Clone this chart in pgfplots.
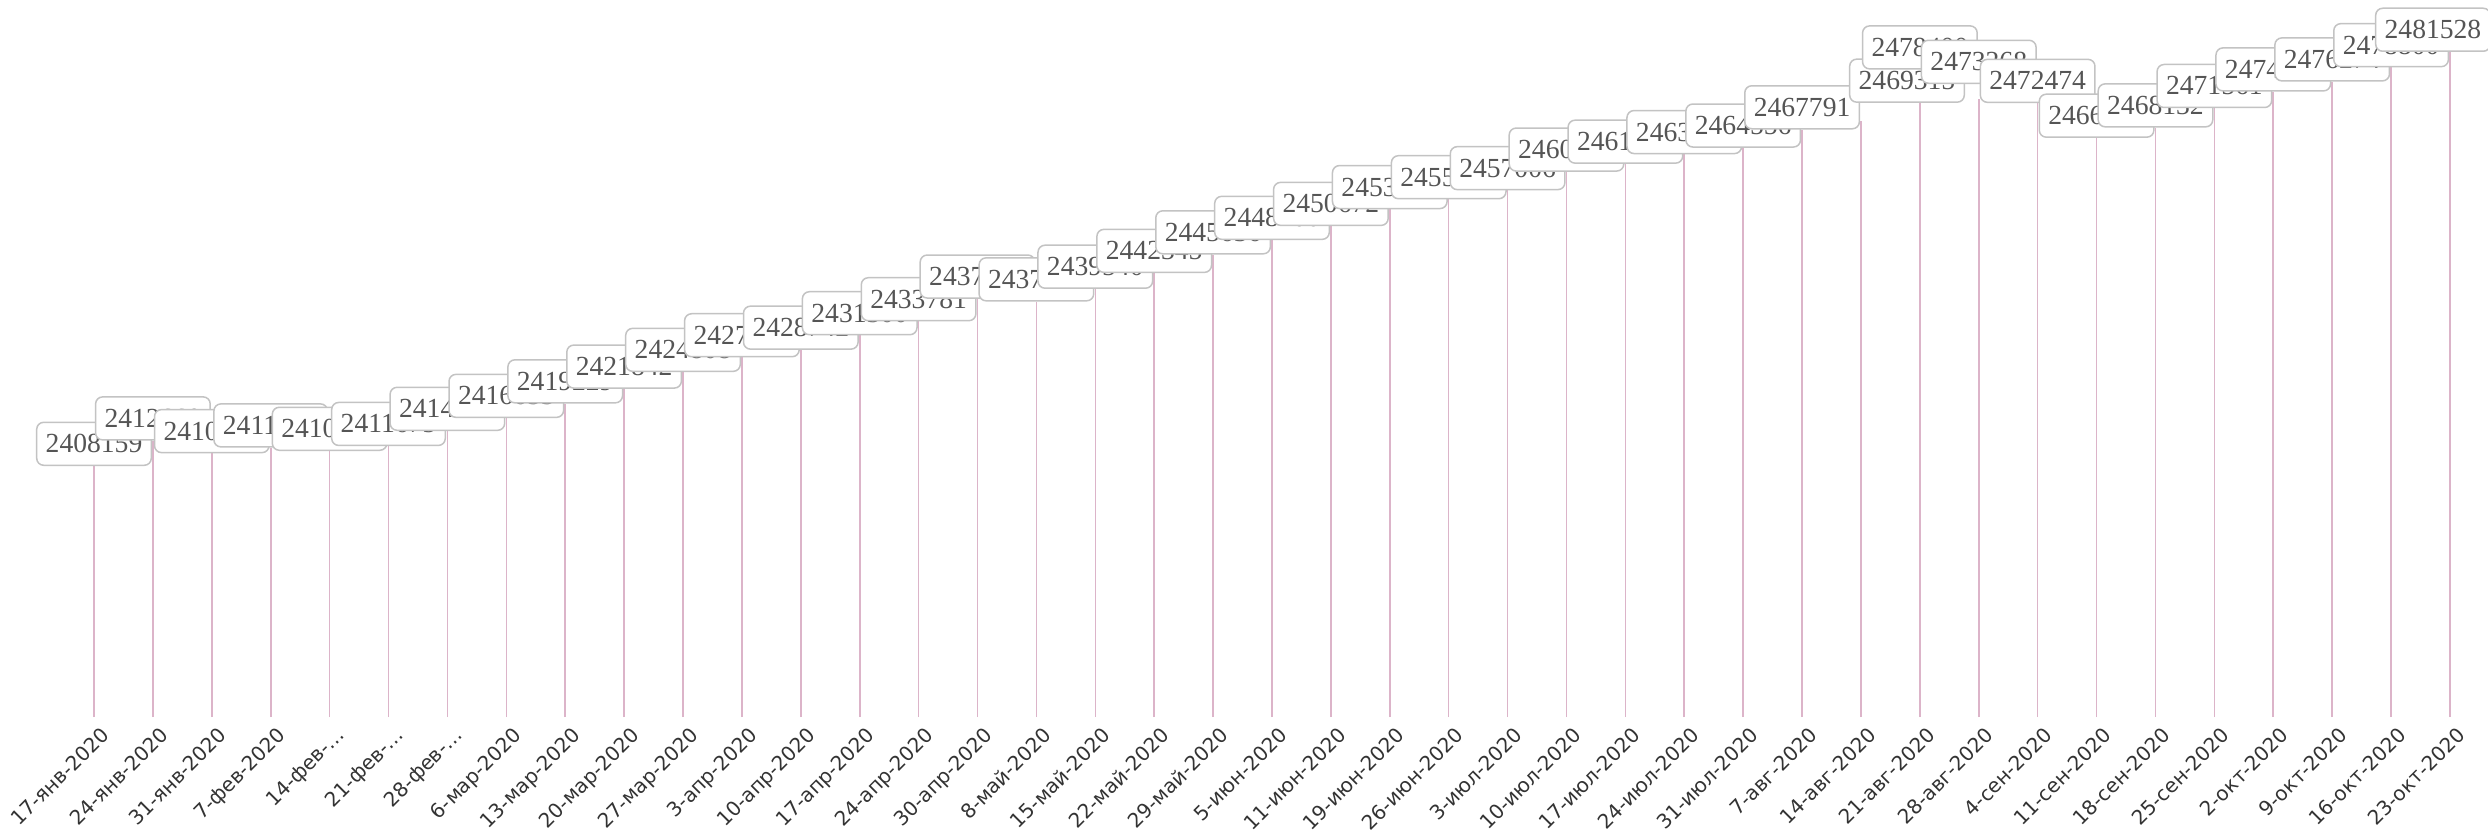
\documentclass[border=0pt]{standalone}
\usepackage{pgfplots}
\pgfplotsset{compat=1.18}
\usepackage{pgfplotstable}
\usepackage{fontspec}
\newfontfamily\labelfont{Liberation Serif}
\newfontfamily\tickfont{DejaVu Sans}
\definecolor{pinkline}{RGB}{220,180,201}
\definecolor{boxgray}{RGB}{195,195,195}
\definecolor{labeltext}{RGB}{85,85,85}
\definecolor{ticktext}{RGB}{51,51,51}

\pgfplotstableread{
x y l
0 2408159 2408159
1 2412660 2412660
2 2410410 2410410
3 2411420 2411420
4 2410820 2410820
5 2411675 2411675
6 2414360 2414360
7 2416653 2416653
8 2419229 2419229
9 2421842 2421842
10 2424808 2424808
11 2427400 2427400
12 2428742 2428742
13 2431300 2431300
14 2433781 2433781
15 2437800 2437800
16 2437300 2437300
17 2439540 2439540
18 2442345 2442345
19 2445636 2445636
20 2448200 2448200
21 2450672 2450672
22 2453654 2453654
23 2455400 2455400
24 2457006 2457006
25 2460300 2460300
26 2461700 2461700
27 2463400 2463400
28 2464556 2464556
29 2467791 2467791
30 2469315 2469315
31 2478400 2478400
32 2473268 2473268
33 2472474 2472474
34 2466300 2466300
35 2468132 2468132
36 2471561 2471561
37 2474500 2474500
38 2476274 2476274
39 2478800 2478800
40 2481528 2481528
}\labdata

\begin{document}
\begin{tikzpicture}
\useasboundingbox (0pt,-57.5pt) rectangle (1244pt,358.5pt);
\begin{axis}[
  at={(0pt,0pt)}, anchor=south west,
  scale only axis, width=1244pt, height=358.5pt,
  xmin=-1.596, xmax=40.645,
  ymin=2363690, ymax=2490742,
  axis line style={draw=none},
  tick style={draw=none},
  major tick length=0pt,
  ytick=\empty,
  xtick={0,...,40},
  xticklabels={17-янв-2020,24-янв-2020,31-янв-2020,7-фев-2020,14-фев-…,21-фев-…,28-фев-…,6-мар-2020,13-мар-2020,20-мар-2020,27-мар-2020,3-апр-2020,10-апр-2020,17-апр-2020,24-апр-2020,30-апр-2020,8-май-2020,15-май-2020,22-май-2020,29-май-2020,5-июн-2020,11-июн-2020,19-июн-2020,26-июн-2020,3-июл-2020,10-июл-2020,17-июл-2020,24-июл-2020,31-июл-2020,7-авг-2020,14-авг-2020,21-авг-2020,28-авг-2020,4-сен-2020,11-сен-2020,18-сен-2020,25-сен-2020,2-окт-2020,9-окт-2020,16-окт-2020,23-окт-2020},
  xticklabel style={rotate=45, anchor=north east, inner sep=1pt, font=\tickfont\fontsize{10}{10}\selectfont, text=ticktext, yshift=-4pt},
  clip=false,
  every node near coord/.style={anchor=south, draw=boxgray, line width=0.75pt, rounded corners=3.5pt, fill=white, text=labeltext, font=\labelfont\fontsize{13.8}{13.8}\selectfont, inner xsep=4.5pt, inner ysep=0pt, minimum height=21.5pt},
  lab/.style={draw=none, mark=none, point meta=explicit symbolic, nodes near coords={\pgfplotspointmeta}},
]
\addplot[ycomb, draw=pinkline, line width=0.8pt, mark=none] table[x=x, y=y] {\labdata};
\addplot[lab, restrict x to domain=0:29.5] table[x=x, y=y, meta=l] {\labdata};
\addplot[lab, restrict x to domain=29.5:30.5, nodes near coords style={xshift=23pt, yshift=9pt}] table[x=x, y=y, meta=l] {\labdata};
\addplot[lab, restrict x to domain=30.5:31.5] table[x=x, y=y, meta=l] {\labdata};
\addplot[lab, restrict x to domain=31.5:32.5, nodes near coords style={yshift=7.3pt}] table[x=x, y=y, meta=l] {\labdata};
\addplot[lab, restrict x to domain=32.5:39.5] table[x=x, y=y, meta=l] {\labdata};
\addplot[lab, restrict x to domain=39.5:40.5, nodes near coords style={xshift=-8.5pt}] table[x=x, y=y, meta=l] {\labdata};
\end{axis}
\end{tikzpicture}
\end{document}
